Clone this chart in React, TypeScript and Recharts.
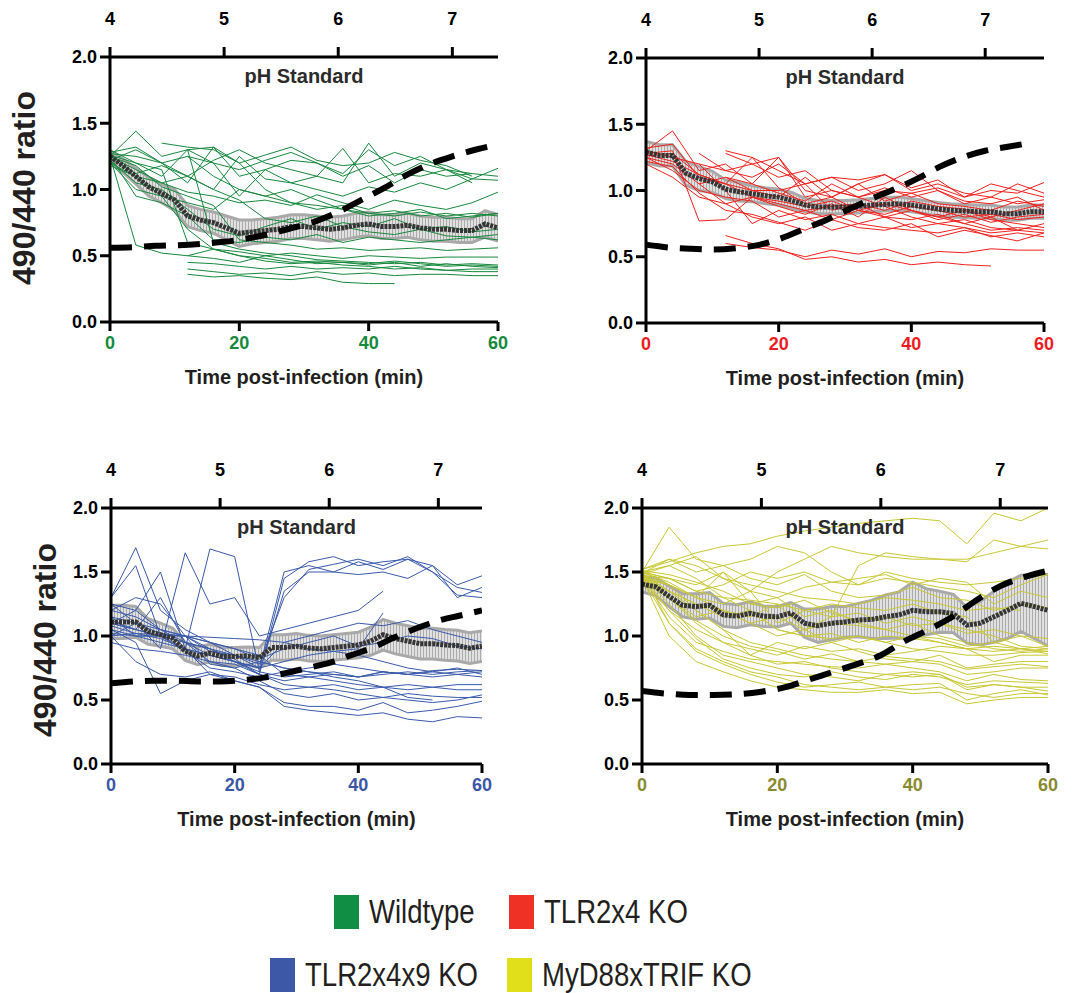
import { ComposedChart, Line, Area, XAxis, YAxis } from 'recharts';

const FONT = '"Liberation Sans", Arial, Helvetica, sans-serif';

// sample times of the single-cell traces (min)
const MINUTES = [0, 4, 8, 12, 16, 20, 24, 28, 32, 36, 40, 44, 48, 52, 56, 60];
// sample times of the mean +/- error series (min)
const MEAN_MINUTES = [0, 2, 4, 6, 8, 10, 12, 14, 16, 18, 20, 22, 24, 26, 28, 30, 32, 34, 36, 38, 40, 42, 44, 46, 48, 50, 52, 54, 56, 58, 60];
// pH values of the standard curve (top axis)
const PH_LEVELS = [4.0, 4.2, 4.4, 4.6, 4.8, 5.0, 5.2, 5.4, 5.6, 5.8, 6.0, 6.2, 6.4, 6.6, 6.8, 7.0, 7.2, 7.4];

const Y_TICKS = [0, 0.5, 1, 1.5, 2];
const T_TICKS = [0, 20, 40, 60];
const PH_TICKS = [4, 5, 6, 7];

// ---------- Wildtype ----------
const WT_TRACES = [
  [1.25, 1.44, 1.25, 1.30, 1.20, 1.15, 1.22, 1.28, 1.20, 1.12, 1.30, 1.18, 1.25, 1.15, 1.08, 1.16],
  [null, null, 1.35, 1.32, 1.30, 1.20, 1.26, 1.32, 1.22, 1.18, 1.20, 1.28, 1.22, 1.18, 1.10, null],
  [1.22, 1.30, 1.20, 1.05, 1.32, 1.10, 1.15, 1.05, 1.10, 1.31, 1.05, 1.12, 1.10, 1.15, 1.12, 1.10],
  [1.25, 1.15, 1.05, 1.10, 1.00, 1.25, 1.08, 1.05, 1.00, 0.95, 1.02, 0.98, 1.05, 1.00, 1.08, 1.07],
  [1.20, 1.00, 0.95, 0.90, 0.85, 1.00, 0.95, 0.90, 0.88, 0.85, 0.80, 0.82, 0.85, 0.78, 0.80, 0.82],
  [1.18, 1.10, 1.05, 0.98, 0.95, 0.90, 0.92, 0.88, 0.96, 0.90, 0.85, 0.92, 0.88, 0.85, 0.90, 0.98],
  [1.22, 1.05, 1.00, 0.85, 0.70, 0.65, 0.72, 0.78, 0.70, 0.75, 0.72, 0.78, 0.70, 0.72, 0.68, 0.70],
  [1.25, 0.95, 0.90, 0.80, 0.62, 0.60, 0.64, 0.62, 0.66, 0.60, 0.64, 0.62, 0.60, 0.62, 0.64, 0.62],
  [1.25, 0.58, 0.52, 0.50, 0.55, 0.53, 0.50, 0.52, 0.50, 0.48, 0.50, 0.49, 0.48, 0.49, 0.49, 0.49],
  [1.30, 1.20, 1.15, 0.60, 0.55, 0.50, 0.48, 0.45, 0.46, 0.45, 0.44, 0.46, 0.44, 0.42, 0.43, 0.42],
  [null, null, null, 0.45, 0.44, 0.42, 0.40, 0.42, 0.40, 0.41, 0.40, 0.42, 0.40, 0.39, 0.40, 0.40],
  [null, null, null, 0.40, 0.38, 0.36, 0.37, 0.35, 0.38, 0.36, 0.37, 0.35, 0.36, 0.36, 0.35, 0.35],
  [null, null, null, 0.50, 0.48, 0.45, 0.50, 0.47, 0.44, 0.45, 0.43, 0.45, 0.42, 0.44, 0.42, 0.41],
  [null, null, null, 0.36, 0.34, 0.35, 0.33, 0.32, 0.34, 0.30, 0.29, 0.29, null, null, null, null],
  [1.20, 1.10, 0.95, 0.70, 0.55, 0.50, 0.46, 0.44, 0.45, 0.43, 0.42, 0.40, 0.41, 0.39, 0.38, 0.38],
  [1.28, 1.32, 1.20, 1.25, 1.10, 1.00, 0.95, 1.00, 0.92, 0.85, 0.82, 0.80, 0.83, 0.80, 0.82, 0.80],
  [null, null, null, 1.30, 1.32, 1.20, 1.00, 0.90, 0.85, 0.88, 0.82, 0.84, 0.80, 0.82, 0.79, 0.82],
  [1.25, 1.18, 1.02, 0.95, 0.88, 0.62, 0.60, 0.58, 0.55, 0.56, 0.54, 0.55, 0.56, 0.54, 0.55, 0.56],
  [1.27, 1.25, 1.20, 1.10, 1.00, 0.92, 0.78, 0.75, 0.80, 0.72, 0.68, 0.66, 0.70, 0.65, 0.64, 0.66],
  [null, null, null, 1.25, 1.20, 0.95, 1.15, 1.22, 1.20, 1.10, 1.18, 1.05, 1.15, 1.10, 1.12, null],
  [1.24, 1.12, 1.18, 1.10, 1.22, 1.30, 1.20, 1.15, 1.10, 1.05, 1.35, 1.10, 1.20, 1.15, 1.05, null],
  [1.26, 1.20, 1.10, 1.30, 0.60, 0.55, 0.52, 0.50, 0.47, 0.46, 0.45, 0.44, 0.45, 0.43, 0.44, 0.43],
];
const WT_MEAN = [1.25, 1.18, 1.10, 1.02, 0.97, 0.92, 0.80, 0.77, 0.75, 0.71, 0.67, 0.68, 0.69, 0.70, 0.72, 0.72, 0.71, 0.70, 0.71, 0.73, 0.74, 0.72, 0.72, 0.73, 0.71, 0.70, 0.70, 0.69, 0.69, 0.74, 0.71];
const WT_ERR = [0.04, 0.05, 0.06, 0.07, 0.07, 0.08, 0.08, 0.08, 0.08, 0.09, 0.10, 0.09, 0.09, 0.09, 0.09, 0.09, 0.09, 0.09, 0.09, 0.09, 0.09, 0.09, 0.09, 0.09, 0.09, 0.09, 0.09, 0.09, 0.09, 0.10, 0.10];
const WT_STANDARD = [0.56, 0.565, 0.575, 0.58, 0.59, 0.605, 0.63, 0.665, 0.71, 0.76, 0.83, 0.92, 1.01, 1.11, 1.19, 1.25, 1.30, 1.34];

// ---------- TLR2x4 KO ----------
const T24_TRACES = [
  [1.30, 1.45, 1.15, 1.20, 1.05, 1.25, 0.95, 1.00, 0.95, 1.00, 0.98, 1.02, 0.95, 1.00, 0.98, 1.06],
  [1.28, 1.30, 0.77, 0.78, 0.95, 0.90, 0.85, 0.88, 0.90, 0.85, 0.92, 0.88, 0.86, 0.80, 0.85, 0.90],
  [1.25, 1.20, 1.05, 1.10, 1.00, 0.95, 1.10, 0.95, 1.05, 1.12, 1.00, 1.05, 0.98, 0.95, 1.05, 0.98],
  [1.32, 1.35, 1.10, 1.05, 1.00, 1.00, 1.05, 1.10, 1.00, 1.05, 1.15, 1.00, 0.90, 0.95, 0.90, 0.93],
  [null, null, 1.28, 1.15, 1.20, 1.25, 1.00, 0.95, 0.85, 0.90, 0.85, 0.80, 0.85, 0.78, 0.75, 0.72],
  [null, null, null, 1.30, 1.25, 1.15, 1.05, 0.85, 0.90, 0.80, 0.85, 0.80, 0.75, 0.70, 0.72, 0.70],
  [null, null, null, 1.28, 1.20, 1.10, 1.15, 1.00, 0.95, 0.88, 0.80, 0.75, 0.72, 0.68, 0.70, 0.68],
  [null, null, null, 0.60, 0.57, 0.55, 0.50, 0.55, 0.52, 0.56, 0.50, 0.54, 0.53, 0.56, 0.55, 0.55],
  [null, null, null, 0.66, 0.60, 0.56, 0.48, 0.50, 0.46, 0.48, 0.44, 0.46, 0.44, 0.43, null, null],
  [1.25, 1.15, 1.00, 0.95, 0.92, 0.80, 0.85, 0.78, 0.85, 0.80, 0.78, 0.82, 0.75, 0.80, 0.70, 0.75],
  [1.20, 1.10, 0.95, 0.90, 0.80, 0.75, 0.80, 0.70, 0.75, 0.72, 0.70, 0.68, 0.72, 0.65, 0.68, 0.65],
  [1.30, 1.25, 1.20, 1.15, 1.10, 1.20, 1.05, 1.10, 1.08, 1.12, 1.02, 1.08, 0.95, 1.05, 1.00, 0.95],
  [1.27, 1.22, 1.12, 1.05, 0.95, 0.92, 0.88, 0.92, 0.85, 0.82, 0.88, 0.85, 0.80, 0.82, 0.78, 0.80],
  [null, null, 1.20, 1.00, 0.75, 0.85, 0.78, 0.82, 0.75, 0.80, 0.72, 0.75, 0.78, 0.72, 0.70, null],
  [1.22, 1.18, 0.98, 0.85, 0.82, 0.76, 0.70, 0.78, 0.72, 0.70, 0.75, 0.65, 0.70, 0.66, 0.62, 0.68],
  [null, null, null, 1.10, 1.05, 0.98, 0.92, 1.05, 0.95, 1.02, 0.95, 1.00, 0.92, 0.90, 0.95, 0.85],
  [1.26, 1.28, 1.12, 1.05, 1.25, 1.02, 0.90, 0.95, 1.05, 0.92, 0.98, 0.90, 0.88, 0.85, 0.92, 0.88],
  [null, null, 1.05, 0.90, 0.95, 0.88, 0.82, 0.90, 0.80, 0.95, 0.85, 0.78, 0.82, 0.76, 0.80, 0.82],
];
const T24_MEAN = [1.29, 1.265, 1.265, 1.13, 1.09, 1.065, 1.01, 0.99, 0.975, 0.96, 0.95, 0.925, 0.89, 0.875, 0.875, 0.875, 0.88, 0.89, 0.895, 0.90, 0.89, 0.875, 0.86, 0.85, 0.845, 0.84, 0.84, 0.825, 0.825, 0.84, 0.84];
const T24_ERR = [0.08, 0.08, 0.08, 0.09, 0.09, 0.08, 0.07, 0.07, 0.06, 0.06, 0.06, 0.06, 0.05, 0.05, 0.05, 0.05, 0.05, 0.05, 0.05, 0.05, 0.05, 0.05, 0.05, 0.05, 0.05, 0.05, 0.05, 0.05, 0.05, 0.05, 0.05];
const T24_STANDARD = [0.59, 0.57, 0.56, 0.555, 0.565, 0.59, 0.64, 0.71, 0.78, 0.86, 0.94, 1.01, 1.09, 1.18, 1.25, 1.30, 1.33, 1.36];

// ---------- TLR2x4x9 KO ----------
const T249_TRACES = [
  [1.30, 1.69, 1.20, 1.05, 0.95, 0.85, 0.80, 0.75, 0.72, 0.70, 0.68, 0.72, 0.70, 0.68, 0.70, 0.72],
  [1.25, 1.20, 1.05, 0.95, 0.90, 0.82, 0.70, 1.45, 1.58, 1.62, 1.55, 1.58, 1.60, 1.55, 1.40, 1.47],
  [1.10, 1.05, 1.00, 0.90, 0.85, 0.80, 0.75, 1.50, 1.55, 1.50, 1.58, 1.52, 1.60, 1.50, 1.38, 1.34],
  [1.20, 1.30, 1.25, 1.00, 0.90, 0.80, 0.72, 1.35, 1.50, 1.50, 1.48, 1.50, 1.45, 1.55, 1.30, 1.38],
  [1.15, 1.10, 1.05, 1.00, 0.88, 0.85, 0.78, 1.30, 1.52, 1.56, 1.60, 1.55, 1.62, 1.50, 1.32, 1.30],
  [1.05, 1.00, 0.95, 0.90, 1.68, 1.62, 0.72, 0.68, 0.70, 0.72, 0.68, 0.70, 0.72, 0.70, 0.72, 0.73],
  [1.00, 1.10, 0.90, 1.65, 1.25, 1.30, 1.00, 1.05, 1.10, 1.15, 1.20, 1.35, null, null, null, null],
  [1.10, 1.20, 1.50, 0.90, 0.85, 0.80, 0.75, 0.80, 0.85, 0.88, 0.90, 1.18, null, null, null, null],
  [1.30, 1.55, 1.00, 0.95, 0.85, 0.80, 0.70, 0.62, 0.60, 0.58, 0.55, 0.52, 0.55, 0.53, 0.52, 0.52],
  [1.05, 0.95, 0.55, 0.65, 0.70, 0.65, 0.60, 0.48, 0.45, 0.45, 0.42, 0.48, 0.40, 0.42, 0.45, 0.49],
  [1.00, 0.80, 0.70, 0.68, 0.72, 0.65, 0.60, 0.45, 0.42, 0.40, 0.38, 0.40, 0.35, 0.33, 0.37, 0.36],
  [1.15, 1.00, 1.00, 1.00, 0.95, 0.90, 0.85, 0.70, 0.68, 0.65, 0.62, 0.60, 0.58, 0.60, 0.58, 0.58],
  [1.10, 1.05, 1.00, 0.95, 0.90, 0.85, 0.75, 0.95, 1.00, 1.05, 1.10, 1.08, 1.12, 1.05, 1.00, 0.95],
  [1.20, 1.15, 1.05, 1.00, 0.95, 0.90, 0.82, 0.90, 0.95, 1.00, 0.92, 0.95, 1.00, 0.98, 0.92, 0.90],
  [0.95, 0.90, 0.88, 0.85, 0.80, 0.78, 0.70, 0.65, 0.68, 0.70, 0.68, 0.72, 0.70, 0.72, 0.70, 0.68],
  [1.25, 1.10, 1.02, 1.00, 0.78, 0.75, 0.65, 0.55, 0.52, 0.55, 0.50, 0.52, 0.50, 0.48, 0.50, 0.54],
  [1.08, 1.02, 0.98, 0.90, 0.70, 0.68, 0.62, 0.58, 0.60, 0.62, 0.58, 0.60, 0.62, 0.60, 0.62, 0.62],
  [1.02, 1.00, 1.00, 0.88, 0.75, 0.72, 0.68, 0.72, 0.75, 0.78, 0.75, 0.72, 0.70, 0.73, 0.74, 0.73],
  [1.12, 1.05, 1.30, 0.95, 0.80, 0.75, 0.80, 0.75, 0.72, 0.68, 0.65, 0.60, 0.52, 0.50, null, null],
  [1.00, 1.02, 1.01, 1.00, 0.99, 0.98, 0.97, 0.95, 0.90, 0.88, 0.85, 0.80, 0.75, 0.72, 0.75, 0.70],
];
const T249_MEAN = [1.11, 1.11, 1.11, 1.035, 1.01, 0.98, 0.88, 0.845, 0.866, 0.84, 0.84, 0.845, 0.83, 0.91, 0.91, 0.92, 0.905, 0.90, 0.91, 0.92, 0.93, 0.96, 1.01, 0.98, 0.96, 0.94, 0.94, 0.93, 0.925, 0.905, 0.92];
const T249_ERR = [0.13, 0.13, 0.12, 0.10, 0.09, 0.08, 0.07, 0.07, 0.07, 0.07, 0.07, 0.07, 0.08, 0.10, 0.10, 0.10, 0.10, 0.10, 0.10, 0.10, 0.10, 0.11, 0.12, 0.12, 0.12, 0.12, 0.12, 0.12, 0.12, 0.12, 0.12];
const T249_STANDARD = [0.63, 0.645, 0.65, 0.65, 0.645, 0.645, 0.655, 0.675, 0.71, 0.75, 0.79, 0.85, 0.91, 0.99, 1.06, 1.12, 1.16, 1.20];

// ---------- MyD88xTRIF KO ----------
const MT_TRACES = [
  [1.50, 1.85, 1.60, 1.55, 1.60, 1.70, 1.65, 1.50, 1.40, 1.45, 1.42, 1.38, 1.35, 1.30, 1.40, 1.48],
  [1.52, 1.58, 1.65, 1.70, 1.72, 1.78, 1.82, 1.85, 1.88, 1.90, 1.92, 1.90, 1.72, 1.96, 1.90, 2.00],
  [1.48, 1.55, 1.62, 1.45, 1.35, 1.50, 1.60, 1.70, 1.65, 1.62, 1.60, 1.60, 1.58, 1.75, 1.70, 1.68],
  [1.45, 1.40, 1.30, 1.50, 1.25, 1.30, 1.38, 1.42, 1.45, 1.48, 1.40, 1.45, 1.42, 1.25, 1.35, 1.30],
  [1.50, 1.45, 1.35, 1.30, 1.28, 1.25, 1.20, 1.25, 1.22, 1.20, 1.25, 1.18, 1.15, 0.95, 1.00, 0.92],
  [1.48, 1.35, 1.25, 1.20, 1.10, 1.15, 1.05, 1.10, 1.08, 1.05, 1.10, 1.00, 0.95, 0.90, 0.88, 0.90],
  [1.45, 1.20, 1.05, 0.95, 0.90, 0.85, 0.92, 0.88, 0.90, 0.85, 0.88, 0.92, 0.90, 0.80, 0.85, 0.85],
  [1.50, 1.10, 0.90, 0.80, 0.72, 0.68, 0.62, 0.60, 0.58, 0.60, 0.58, 0.60, 0.55, 0.52, 0.55, 0.55],
  [1.45, 1.00, 0.80, 0.72, 0.65, 0.60, 0.58, 0.56, 0.56, 0.58, 0.55, 0.56, 0.47, 0.50, 0.52, 0.52],
  [1.48, 1.30, 1.10, 0.95, 0.85, 0.78, 0.80, 0.75, 0.72, 0.70, 0.68, 0.70, 0.60, 0.62, 0.60, 0.60],
  [1.50, 1.40, 1.20, 1.05, 0.95, 0.90, 0.85, 0.82, 0.80, 0.78, 0.75, 0.72, 0.65, 0.70, 0.66, 0.65],
  [1.47, 1.45, 1.40, 1.50, 1.35, 1.30, 1.15, 1.20, 1.10, 1.05, 1.00, 0.95, 0.90, 0.92, 0.90, 0.92],
  [1.50, 1.30, 1.15, 1.20, 1.10, 1.00, 1.05, 0.95, 1.00, 0.95, 0.90, 0.88, 0.85, 0.85, 0.87, 0.88],
  [1.45, 1.35, 1.20, 1.05, 0.85, 0.95, 0.90, 0.95, 0.88, 0.82, 0.80, 0.85, 0.75, 0.78, 0.80, 0.80],
  [1.52, 1.60, 1.55, 1.45, 1.40, 1.35, 1.30, 1.28, 1.25, 1.30, 1.28, 1.25, 1.20, 1.22, 1.20, null],
  [1.48, 1.25, 1.00, 0.85, 0.80, 0.75, 0.70, 0.68, 0.65, 0.70, 0.72, 0.70, 0.58, 0.62, 0.60, 0.57],
  [1.46, 1.15, 0.95, 0.88, 0.82, 0.80, 0.78, 0.76, 0.75, 0.78, 0.80, 0.78, 0.70, 0.72, 0.75, 0.75],
  [1.50, 1.45, 1.35, 1.40, 1.50, 1.45, 1.50, 1.42, 1.40, 1.50, 1.45, 1.42, 1.40, 1.42, 1.45, 1.48],
  [1.49, 1.35, 1.25, 1.15, 1.20, 1.05, 1.00, 1.02, 0.95, 1.00, 0.98, 0.95, 0.90, 0.88, 0.90, 0.86],
  [1.47, 1.40, 1.30, 1.25, 1.35, 1.10, 1.20, 1.15, 1.18, 1.10, 1.15, 1.10, 1.05, 1.00, 0.92, 0.90],
  [1.50, 1.55, 1.45, 1.30, 1.20, 1.05, 1.00, 0.98, 1.00, 0.95, 1.00, 0.98, 0.92, 0.95, 0.90, 0.88],
  [1.48, 1.20, 0.98, 0.82, 0.75, 0.70, 0.68, 0.72, 0.68, 0.66, 0.70, 0.68, 0.62, 0.65, 0.64, 0.63],
  [1.50, 1.42, 1.30, 1.20, 1.15, 1.25, 1.05, 1.15, 1.55, 1.65, 1.62, 1.60, 1.60, 1.65, 1.70, 1.75],
  [1.46, 1.30, 1.12, 1.00, 0.92, 0.88, 0.82, 0.86, 0.80, 0.84, 0.82, 0.80, 0.74, 0.76, 0.78, 0.76],
  [1.51, 1.48, 1.42, 1.35, 1.25, 1.22, 1.28, 1.18, 1.12, 1.15, 1.08, 1.10, 1.02, 1.05, 1.00, 0.98],
  [1.45, 1.10, 0.88, 0.78, 0.70, 0.64, 0.60, 0.62, 0.64, 0.60, 0.62, 0.63, 0.50, 0.55, 0.58, 0.54],
  [1.49, 1.60, 1.50, 1.55, 1.45, 1.40, 1.48, 1.35, 1.30, 1.32, 1.38, 1.30, 1.28, 1.20, 1.25, 1.22],
];
const MT_MEAN = [1.405, 1.385, 1.31, 1.24, 1.23, 1.24, 1.165, 1.155, 1.177, 1.155, 1.15, 1.18, 1.10, 1.08, 1.10, 1.11, 1.125, 1.13, 1.15, 1.165, 1.20, 1.19, 1.19, 1.175, 1.085, 1.10, 1.15, 1.20, 1.255, 1.23, 1.20];
const MT_ERR = [0.06, 0.07, 0.08, 0.09, 0.10, 0.10, 0.09, 0.09, 0.09, 0.08, 0.08, 0.08, 0.11, 0.13, 0.13, 0.12, 0.13, 0.15, 0.17, 0.18, 0.22, 0.18, 0.16, 0.15, 0.14, 0.17, 0.20, 0.22, 0.22, 0.25, 0.28];
const MT_STANDARD = [0.57, 0.55, 0.54, 0.54, 0.545, 0.565, 0.60, 0.66, 0.72, 0.78, 0.85, 0.96, 1.05, 1.15, 1.28, 1.39, 1.46, 1.51];

const PANELS = [
  { id: 'wt', x: 110, y: 57, w: 388, h: 265, phMax: 7.4, line: '#17893d', tick: '#17893d', traces: WT_TRACES, mean: WT_MEAN, err: WT_ERR, std: WT_STANDARD },
  { id: 't24', x: 646, y: 58, w: 398, h: 265, phMax: 7.52, line: '#f2201c', tick: '#ee1c24', traces: T24_TRACES, mean: T24_MEAN, err: T24_ERR, std: T24_STANDARD },
  { id: 't249', x: 111, y: 508, w: 371, h: 256, phMax: 7.4, line: '#3a5aab', tick: '#3a56a5', traces: T249_TRACES, mean: T249_MEAN, err: T249_ERR, std: T249_STANDARD },
  { id: 'mt', x: 642, y: 508, w: 406, h: 256, phMax: 7.4, line: '#c9c834', tick: '#8a8a30', traces: MT_TRACES, mean: MT_MEAN, err: MT_ERR, std: MT_STANDARD },
];

const LEGEND = [
  { name: 'Wildtype', color: '#108e44', x: 334, y: 895 },
  { name: 'TLR2x4 KO', color: '#ee3124', x: 509, y: 895 },
  { name: 'TLR2x4x9 KO', color: '#3c58a7', x: 270, y: 958 },
  { name: 'MyD88xTRIF KO', color: '#e1df1a', x: 507, y: 958 },
];

const axisLine = { stroke: '#000', strokeWidth: 3 };
const tickFont = { fill: '#000', fontSize: 18, fontWeight: 700, fontFamily: FONT };

function Panel({ p }: { p: (typeof PANELS)[number] }) {
  const traceData = p.traces.map((tr) => MINUTES.map((t, i) => ({ t, v: tr[i] })));
  const meanData = MEAN_MINUTES.map((t, i) => ({
    t,
    m: p.mean[i],
    band: [p.mean[i] - p.err[i], p.mean[i] + p.err[i]],
  }));
  const stdData = PH_LEVELS.map((ph, i) => ({ ph, r: p.std[i] }));
  const L = 60, T = 57, R = 30, B = 80;

  return (
    <div style={{ position: 'absolute', left: p.x - L, top: p.y - T }}>
      <ComposedChart width={p.w + L + R} height={p.h + T + B} margin={{ top: 0, right: R, bottom: 50, left: 0 }}>
        <defs>
          <pattern id={`hatch-${p.id}`} width="3" height="6" patternUnits="userSpaceOnUse">
            <rect width="3" height="6" fill="#dedede" />
            <rect width="1" height="6" fill="#a2a2a2" />
          </pattern>
        </defs>
        <XAxis
          xAxisId="t"
          dataKey="t"
          type="number"
          domain={[0, 60]}
          ticks={T_TICKS}
          allowDataOverflow
          height={30}
          axisLine={axisLine}
          tickLine={axisLine}
          tickSize={9}
          tickMargin={5}
          tick={{ ...tickFont, fill: p.tick }}
          label={{ value: 'Time post-infection (min)', position: 'bottom', offset: 18, fill: '#231f20', fontSize: 20, fontWeight: 700, fontFamily: FONT }}
        />
        <XAxis
          xAxisId="ph"
          dataKey="ph"
          type="number"
          orientation="top"
          domain={[4, p.phMax]}
          ticks={PH_TICKS}
          allowDataOverflow
          height={T}
          axisLine={axisLine}
          tickLine={axisLine}
          tickSize={10}
          tickMargin={22}
          tick={tickFont}
          label={{ value: 'pH Standard', position: 'bottom', offset: 12, fill: '#2b2b2b', fontSize: 20, fontWeight: 700, fontFamily: FONT }}
        />
        <YAxis
          type="number"
          domain={[0, 2]}
          ticks={Y_TICKS}
          allowDataOverflow
          width={L}
          axisLine={axisLine}
          tickLine={axisLine}
          tickSize={10}
          tickMargin={3}
          tick={tickFont}
          tickFormatter={(v: number) => v.toFixed(1)}
        />
        {traceData.map((d, i) => (
          <Line
            key={`tr-${i}`}
            xAxisId="t"
            data={d}
            dataKey="v"
            stroke={p.line}
            strokeWidth={1}
            dot={false}
            connectNulls={false}
            isAnimationActive={false}
          />
        ))}
        <Area
          xAxisId="t"
          data={meanData}
          dataKey="band"
          stroke="#a9a9a9"
          strokeWidth={3}
          fill={`url(#hatch-${p.id})`}
          fillOpacity={0.9}
          isAnimationActive={false}
        />
        <Line
          xAxisId="t"
          data={meanData}
          dataKey="m"
          stroke="#353535"
          strokeWidth={5}
          strokeDasharray="3 1"
          dot={false}
          isAnimationActive={false}
        />
        <Line
          xAxisId="ph"
          data={stdData}
          dataKey="r"
          stroke="#000"
          strokeWidth={6}
          strokeDasharray="22 12"
          type="monotone"
          dot={false}
          isAnimationActive={false}
        />
      </ComposedChart>
    </div>
  );
}

const yLabelStyle = {
  position: 'absolute' as const,
  fontFamily: FONT,
  fontWeight: 700,
  fontSize: 32,
  color: '#231f20',
  whiteSpace: 'nowrap' as const,
  transform: 'translate(-50%, -50%) rotate(-90deg)',
};

export default function App() {
  return (
    <div style={{ position: 'absolute', left: 0, top: 0, width: 1081, height: 993, background: '#fff', overflow: 'hidden' }}>
      {PANELS.map((p) => (
        <Panel key={p.id} p={p} />
      ))}
      <div style={{ ...yLabelStyle, left: 24, top: 188 }}>490/440 ratio</div>
      <div style={{ ...yLabelStyle, left: 45, top: 640 }}>490/440 ratio</div>
      {LEGEND.map((l) => (
        <div key={l.name}>
          <div style={{ position: 'absolute', left: l.x, top: l.y, width: 25, height: 34, background: l.color }} />
          <div
            style={{
              position: 'absolute',
              left: l.x + 35,
              top: l.y - 1,
              fontFamily: FONT,
              fontSize: 34,
              lineHeight: '34px',
              color: '#231f20',
              whiteSpace: 'nowrap',
              transform: 'scaleX(0.81)',
              transformOrigin: 'left center',
            }}
          >
            {l.name}
          </div>
        </div>
      ))}
    </div>
  );
}
